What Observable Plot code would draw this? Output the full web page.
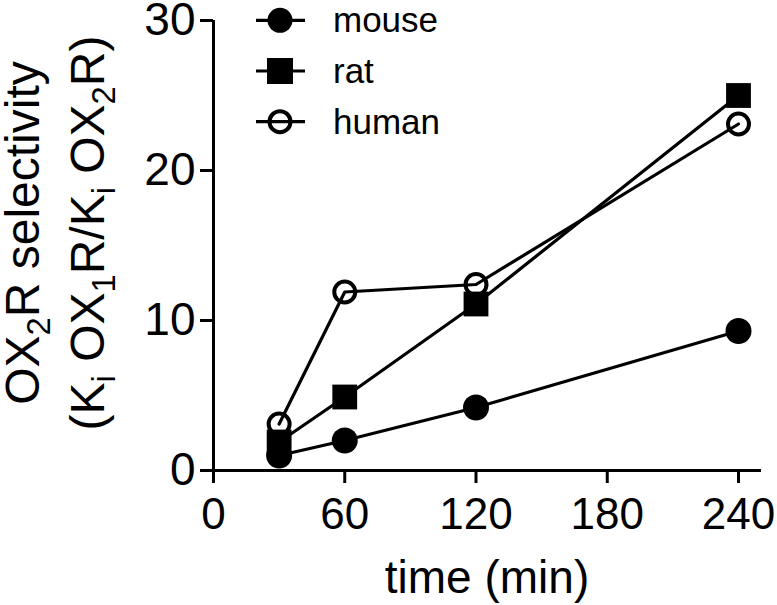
<!DOCTYPE html>
<html>
<head>
<meta charset="utf-8">
<script src="https://cdn.jsdelivr.net/npm/d3@7"></script>
<script src="https://cdn.jsdelivr.net/npm/@observablehq/plot@0.6"></script>
<style>
  html, body { margin: 0; padding: 0; background: #fff; }
  #chart { position: relative; width: 777px; height: 605px; }
  svg { font-family: "Liberation Sans", Arial, sans-serif; }
</style>
</head>
<body>
<div id="chart"></div>
<script>
// ---- data ----
const times = [30, 60, 120, 240];
const mouse = [1.0, 2.0, 4.2, 9.3];
const rat = [1.9, 4.9, 11.1, 25.0];
const human = [3.1, 11.9, 12.4, 23.1];
const seriesNames = ["mouse", "rat", "human"];
const xTicks = [0, 60, 120, 180, 240];
const yTicks = [0, 10, 20, 30];

const rows = (name, vals) => times.map((t, i) => ({series: name, time: t, value: vals[i]}));
const mouseData = rows("mouse", mouse);
const ratData = rows("rat", rat);
const humanData = rows("human", human);

const font = "Liberation Sans, Arial, sans-serif";

const plot = Plot.plot({
  width: 777,
  height: 605,
  marginLeft: 213,
  marginRight: 39,
  marginTop: 20,
  marginBottom: 135,
  style: {fontFamily: font, background: "#fff", overflow: "visible"},
  x: {domain: [0, 240]},
  y: {domain: [0, 30]},
  marks: [
    Plot.axisX({ticks: xTicks, tickSize: 13, tickPadding: 14, strokeWidth: 3, fontSize: 44, label: null, tickFormat: d => String(d), fill: "#000"}),
    Plot.axisY({ticks: yTicks, tickSize: 13, tickPadding: 5, strokeWidth: 3, fontSize: 46, label: null, tickFormat: d => String(d), fill: "#000"}),
    Plot.ruleY([0], {x1: 0, x2: 250.5, stroke: "#000", strokeWidth: 3}),
    Plot.ruleX([0], {y1: 0, y2: 30, stroke: "#000", strokeWidth: 3}),
    Plot.line(mouseData, {x: "time", y: "value", stroke: "#000", strokeWidth: 3.2}),
    Plot.line(ratData, {x: "time", y: "value", stroke: "#000", strokeWidth: 3.2}),
    Plot.line(humanData, {x: "time", y: "value", stroke: "#000", strokeWidth: 3.2}),
    Plot.dot(mouseData, {x: "time", y: "value", symbol: "circle", r: 13, fill: "#000"}),
    Plot.dot(humanData, {x: "time", y: "value", symbol: "circle", r: 10.5, fill: "none", stroke: "#000", strokeWidth: 4}),
    Plot.dot(ratData, {x: "time", y: "value", symbol: "square", r: 14, fill: "#000"})
  ]
});
document.getElementById("chart").appendChild(plot);

const svg = d3.select(plot);

// y-axis title (two lines, with subscripts)
const ytitle = svg.append("g").attr("transform", "translate(0,233) rotate(-90)")
  .attr("font-family", font).attr("fill", "#000").attr("text-anchor", "middle");
function addRich(g, parts, dyLine, size) {
  const t = g.append("text").attr("x", 0).attr("y", dyLine).attr("font-size", size);
  parts.forEach(p => {
    const ts = t.append("tspan").text(p.t);
    if (p.sub) { ts.attr("font-size", size * 0.68).attr("dy", size * 0.22); }
    else if (p.after) { ts.attr("dy", -size * 0.22); }
  });
  return t;
}
addRich(ytitle, [{t: "OX"}, {t: "2", sub: true}, {t: "R selectivity", after: true}], 39, 48);
addRich(ytitle, [{t: "(K"}, {t: "i", sub: true}, {t: " OX", after: true}, {t: "1", sub: true}, {t: "R/K", after: true}, {t: "i", sub: true}, {t: " OX", after: true}, {t: "2", sub: true}, {t: "R)", after: true}], 104, 48);

// x-axis title
svg.append("text").attr("x", 487).attr("y", 593).attr("text-anchor", "middle")
  .attr("font-family", font).attr("font-size", 46).attr("fill", "#000").text("time (min)");

// legend
const legend = svg.append("g").attr("font-family", font).attr("text-anchor", "start");
const legendY = d3.scaleBand().domain(seriesNames).range([-5, 147]);
seriesNames.forEach(name => {
  const cy = legendY(name) + legendY.bandwidth() / 2;
  const g = legend.append("g").attr("transform", `translate(280,${cy})`);
  g.append("line").attr("x1", -24).attr("x2", 25).attr("stroke", "#000").attr("stroke-width", 3.2);
  if (name === "mouse") g.append("circle").attr("r", 12.5).attr("fill", "#000");
  if (name === "rat") g.append("rect").attr("x", -13).attr("y", -13).attr("width", 26).attr("height", 26).attr("fill", "#000");
  if (name === "human") g.append("circle").attr("r", 10.5).attr("fill", "none").attr("stroke", "#000").attr("stroke-width", 4);
  g.append("text").attr("x", 53).attr("y", 12).attr("font-size", 35).attr("fill", "#000").attr("text-anchor", "start").text(name);
});
</script>
</body>
</html>
